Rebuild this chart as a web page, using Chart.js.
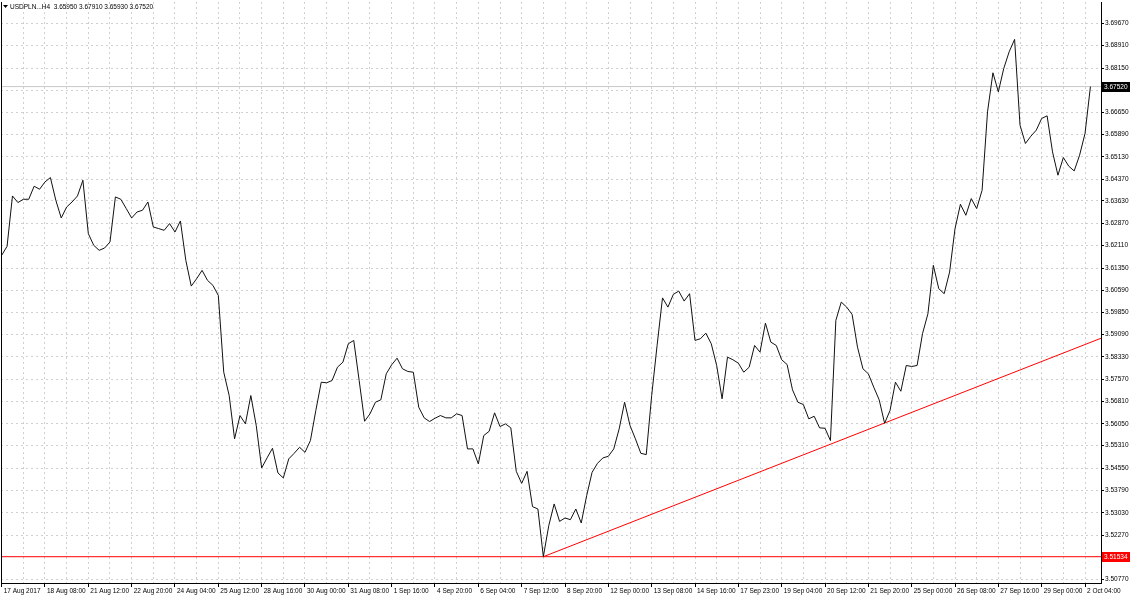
<!DOCTYPE html>
<html>
<head>
<meta charset="utf-8">
<script src="https://cdn.jsdelivr.net/npm/chart.js@4.4.0/dist/chart.umd.min.js"></script>
<style>
  html, body { margin: 0; padding: 0; background: #fff; }
</style>
</head>
<body>
<canvas id="chart" width="1130" height="596"></canvas>
<script>
// header line
const symbol = 'USDPLN...H4'
const ohlc = ['3.65950', '3.67910', '3.65930', '3.67520']

// H4 closes, one per bar
const closes = [
  3.61782, 3.62088, 3.63801, 3.63576, 3.63688, 3.63688, 3.64131, 3.64029, 3.64277, 3.64427,
  3.63654, 3.63052, 3.63426, 3.63596, 3.63801, 3.64335, 3.62521, 3.62122, 3.61952, 3.62030,
  3.62235, 3.63767, 3.63688, 3.63372, 3.63052, 3.63256, 3.63314, 3.63596, 3.62745, 3.62691,
  3.62633, 3.62861, 3.62575, 3.62950, 3.61611, 3.60736, 3.60988, 3.61271, 3.60931, 3.60760,
  3.60420, 3.57808, 3.57015, 3.55541, 3.56334, 3.56051, 3.57015, 3.55994, 3.54553, 3.54894,
  3.55221, 3.54383, 3.54213, 3.54860, 3.55050, 3.55255, 3.55084, 3.55483, 3.56504, 3.57468,
  3.57447, 3.57526, 3.57979, 3.58149, 3.58775, 3.58888, 3.57526, 3.56140, 3.56392, 3.56787,
  3.56869, 3.57754, 3.58060, 3.58285, 3.57924, 3.57832, 3.57808, 3.56617, 3.56256, 3.56130,
  3.56242, 3.56334, 3.56256, 3.56256, 3.56392, 3.56334, 3.55200, 3.55200, 3.54690, 3.55653,
  3.55799, 3.56426, 3.55960, 3.56051, 3.55915, 3.54437, 3.54029, 3.54437, 3.53236, 3.53157,
  3.51534, 3.52589, 3.53328, 3.52735, 3.52851, 3.52793, 3.53157, 3.52681, 3.53610, 3.54404,
  3.54710, 3.54894, 3.54948, 3.55200, 3.55881, 3.56787, 3.55994, 3.55541, 3.55050, 3.55006,
  3.57015, 3.58717, 3.60335, 3.60021, 3.60454, 3.60566, 3.60226, 3.60478, 3.58888, 3.58946,
  3.59136, 3.58775, 3.58036, 3.56903, 3.58319, 3.58231, 3.58115, 3.57808, 3.57979, 3.58717,
  3.58489, 3.59477, 3.58830, 3.58717, 3.58231, 3.58070, 3.57209, 3.56787, 3.56709, 3.56222,
  3.56310, 3.55915, 3.55902, 3.55483, 3.59569, 3.60192, 3.60021, 3.59773, 3.58660, 3.57924,
  3.57754, 3.57298, 3.56869, 3.56072, 3.56504, 3.57468, 3.57161, 3.58036, 3.58002, 3.58036,
  3.59116, 3.59797, 3.61441, 3.60648, 3.60478, 3.61213, 3.62691, 3.63518, 3.63144, 3.63712,
  3.63372, 3.63995, 3.66661, 3.67989, 3.67342, 3.68138, 3.68704, 3.69126, 3.66208, 3.65585,
  3.65833, 3.66038, 3.66436, 3.66525, 3.65299, 3.64506, 3.65108, 3.64812, 3.64652, 3.65187,
  3.65925, 3.67520
]

// time labels, one every 8 bars
const xLabels = [
  '17 Aug 2017', '18 Aug 08:00', '21 Aug 12:00', '22 Aug 20:00', '24 Aug 04:00',
  '25 Aug 12:00', '28 Aug 16:00', '30 Aug 00:00', '31 Aug 08:00', '1 Sep 16:00',
  '4 Sep 20:00', '6 Sep 04:00', '7 Sep 12:00', '8 Sep 20:00', '12 Sep 00:00',
  '13 Sep 08:00', '14 Sep 16:00', '17 Sep 23:00', '19 Sep 04:00', '20 Sep 12:00',
  '21 Sep 20:00', '25 Sep 00:00', '26 Sep 08:00', '27 Sep 16:00', '29 Sep 00:00',
  '2 Oct 04:00'
]

// price scale labels
const yTicks = [
  3.69670, 3.68910, 3.68150, 3.67390, 3.66650, 3.65890, 3.65130, 3.64370, 3.63630,
  3.62870, 3.62110, 3.61350, 3.60590, 3.59850, 3.59090, 3.58330, 3.57570, 3.56810,
  3.56050, 3.55310, 3.54550, 3.53790, 3.53030, 3.52270, 3.50770
]

const bidPrice = 3.67520
const supportLevel = 3.51534
const trendStart = { x: 100, y: 3.51534 }
const trendEnd = { x: 203, y: 3.58966 }

const X_MIN = -0.12
const X_MAX = 202.95
const Y_MIN = 3.50640
const Y_MAX = 3.70396

const FONT = '"Liberation Sans", Arial, sans-serif'
const FONT_SIZE = 6.5

const overlay = {
  id: 'overlay',
  afterDraw(chart) {
    const { ctx, chartArea: a } = chart
    const y = chart.scales.y
    ctx.save()
    // left frame
    ctx.strokeStyle = '#000'
    ctx.lineWidth = 1
    ctx.beginPath()
    ctx.moveTo(a.left + 0.5, a.top)
    ctx.lineTo(a.left + 0.5, a.bottom)
    ctx.stroke()

    // header
    ctx.fillStyle = '#000'
    ctx.beginPath()
    ctx.moveTo(3, 5)
    ctx.lineTo(8, 5)
    ctx.lineTo(5.5, 8)
    ctx.closePath()
    ctx.fill()
    ctx.font = FONT_SIZE + 'px ' + FONT
    ctx.textBaseline = 'middle'
    ctx.textAlign = 'left'
    ctx.fillText(symbol + '  ' + ohlc.join(' '), 10, 7)

    // price tags on the scale
    const tag = (v, bg) => {
      const py = Math.round(y.getPixelForValue(v))
      ctx.fillStyle = bg
      ctx.fillRect(a.right + 1, py - 5, 28, 10)
      ctx.fillStyle = '#fff'
      ctx.fillText(v.toFixed(5), a.right + 3, py + 0.5)
    }
    tag(bidPrice, '#000')
    tag(supportLevel, '#ff0000')
    ctx.restore()
  }
}

const noPad = s => {
  s.paddingTop = 0
  s.paddingBottom = 0
  s.paddingLeft = 0
  s.paddingRight = 0
}

new Chart(document.getElementById('chart'), {
  type: 'line',
  data: {
    datasets: [
      {
        label: 'close',
        data: closes.map((v, i) => ({ x: i, y: v })),
        borderColor: '#111',
        borderWidth: 1,
        pointRadius: 0,
        tension: 0,
        order: 0
      },
      {
        label: 'trend',
        data: [trendStart, trendEnd],
        borderColor: '#ff0000',
        borderWidth: 1,
        pointRadius: 0,
        order: 1
      },
      {
        label: 'support',
        data: [{ x: X_MIN, y: supportLevel }, { x: X_MAX, y: supportLevel }],
        borderColor: '#ff0000',
        borderWidth: 1,
        pointRadius: 0,
        order: 2
      },
      {
        label: 'bid',
        data: [{ x: X_MIN, y: bidPrice }, { x: X_MAX, y: bidPrice }],
        borderColor: '#c8c8c8',
        borderWidth: 1,
        pointRadius: 0,
        order: 3
      }
    ]
  },
  options: {
    responsive: false,
    animation: false,
    devicePixelRatio: 1,
    layout: { padding: { left: 1, top: 2, right: 0, bottom: 0 } },
    plugins: { legend: { display: false }, tooltip: { enabled: false } },
    scales: {
      x: {
        type: 'linear',
        min: X_MIN,
        max: X_MAX,
        afterBuildTicks: s => {
          const t = []
          for (let i = 0; i <= 200; i += 4) t.push({ value: i })
          s.ticks = t
        },
        afterFit: s => { s.height = 13; noPad(s) },
        grid: {
          color: '#d0d0d0',
          tickLength: 4,
          tickColor: c => (c.tick && c.tick.value % 8 === 0 ? '#000' : 'rgba(0,0,0,0)')
        },
        border: { color: '#000', dash: [2, 3] },
        ticks: {
          autoSkip: false,
          maxRotation: 0,
          align: 'start',
          labelOffset: 2,
          padding: 0,
          color: '#000',
          font: { family: FONT, size: FONT_SIZE },
          callback: v => (v % 8 === 0 ? xLabels[v / 8] : '')
        }
      },
      y: {
        position: 'right',
        min: Y_MIN,
        max: Y_MAX,
        afterBuildTicks: s => { s.ticks = yTicks.map(v => ({ value: v })) },
        afterFit: s => { s.width = 29; noPad(s) },
        grid: { color: '#d0d0d0', tickLength: 3, tickColor: '#000' },
        border: { color: '#000', dash: [2, 3] },
        ticks: {
          padding: 1,
          color: '#000',
          font: { family: FONT, size: FONT_SIZE },
          callback: v => v.toFixed(5)
        }
      }
    }
  },
  plugins: [overlay]
})
</script>
</body>
</html>
